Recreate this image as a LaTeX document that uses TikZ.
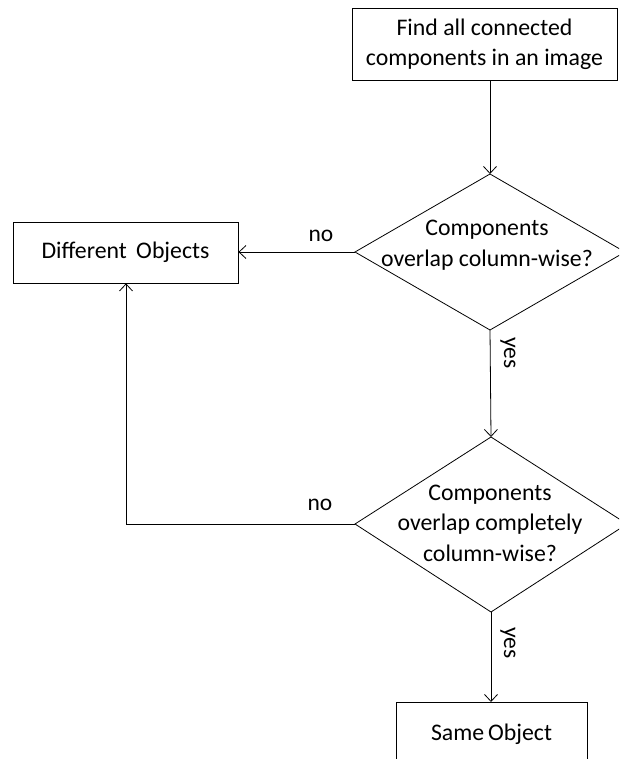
\documentclass[tikz,border=0pt]{standalone}
\usepackage{fontspec}
\setmainfont{Carlito}
\usetikzlibrary{arrows.meta}
\tikzset{
  box/.style={draw, line width=0.8pt, inner sep=0pt, align=center, font=\fontsize{23.8}{30}\selectfont},
  txt/.style={inner sep=0pt, align=center, font=\fontsize{23.8}{30.5}\selectfont},
  lbl/.style={inner sep=0pt, font=\fontsize{23.5}{26}\selectfont},
  conn/.style={line width=0.8pt, -{Straight Barb[length=7pt,width=13pt]}},
  plain/.style={line width=0.8pt},
  dia/.style={line width=0.8pt}
}
\begin{document}
\begin{tikzpicture}[x=1pt,y=-1pt]
\useasboundingbox (0,0) rectangle (619,759);
\clip (0,0) rectangle (619,759);
% top box
\node[box, minimum width=265pt, minimum height=72pt] (find) at (484.5,44) {Find all connected\\components in an image};
% diamond 1
\coordinate (d1t) at (490,174);
\coordinate (d1l) at (355,252);
\coordinate (d1r) at (625,252);
\coordinate (d1b) at (490,330);
\draw[dia] (d1t) -- (d1r) -- (d1b) -- (d1l) -- cycle;
\node[txt] (q1) at (487,245) {Components\\overlap column-wise?};
% different objects
\node[box, minimum width=225pt, minimum height=61pt] (diff) at (125.5,252.5) {Different\, Objects};
% diamond 2
\coordinate (d2t) at (491,437);
\coordinate (d2l) at (355,524);
\coordinate (d2r) at (627,524);
\coordinate (d2b) at (491,612);
\draw[dia] (d2t) -- (d2r) -- (d2b) -- (d2l) -- cycle;
\node[txt] (q2) at (490,523) {Components\\overlap completely\\column-wise?};
% same object
\node[box, minimum width=191pt, minimum height=70pt, anchor=north] (same) at (491.5,702) {};
\node[txt] (sametxt) at (491.5,734) {Same\,Object};
% connectors
\draw[conn] (find.south -| d1t) -- (d1t);
\draw[conn] (d1l) -- (diff.east |- d1l);
\draw[conn] (d1b) -- (d2t);
\draw[conn] (d2b) -- (same.north -| d2b);
\coordinate (corner) at (126,524);
\draw[plain] (d2l) -- (corner);
\draw[conn] (corner) -- (corner |- diff.south);
% labels
\node[lbl] (no1) at (321,236) {no};
\node[lbl] (no2) at (320,505) {no};
\node[lbl, rotate=-90] (yes1) at (508,353) {yes};
\node[lbl, rotate=-90] (yes2) at (508,643) {yes};
\end{tikzpicture}
\end{document}
